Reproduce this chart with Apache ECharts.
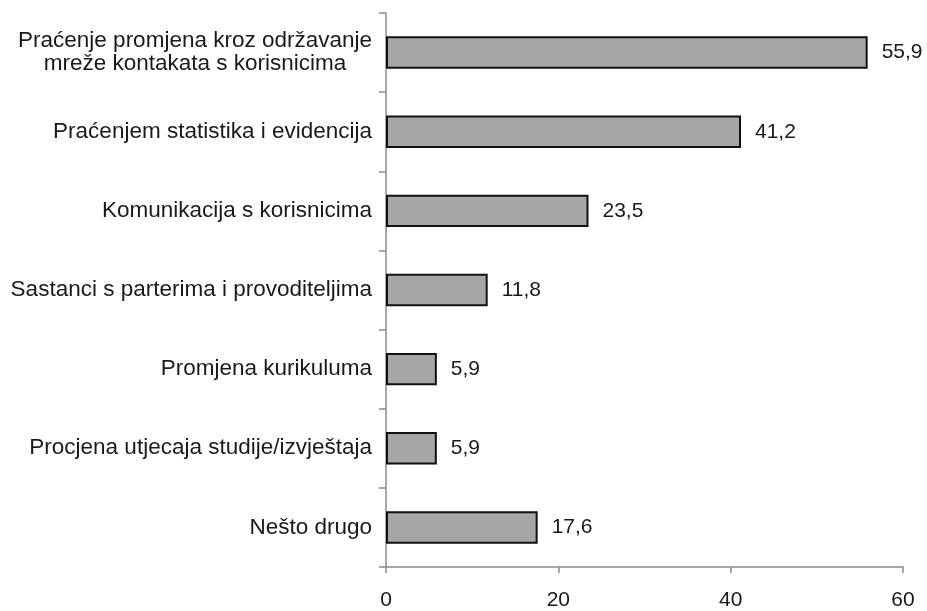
<!DOCTYPE html>
<html>
<head>
<meta charset="utf-8">
<script src="https://cdn.jsdelivr.net/npm/echarts@6/dist/echarts.min.js"></script>
<style>
  html, body { margin: 0; padding: 0; background: #ffffff; }
  #chart { width: 927px; height: 611px; }
</style>
</head>
<body>
<div id="chart"></div>
<script>
// Categories listed top to bottom
const categories = [
  'Praćenje promjena kroz održavanje\nmreže kontakata s korisnicima',
  'Praćenjem statistika i evidencija',
  'Komunikacija s korisnicima',
  'Sastanci s parterima i provoditeljima',
  'Promjena kurikuluma',
  'Procjena utjecaja studije/izvještaja',
  'Nešto drugo'
];
const values = [55.9, 41.2, 23.5, 11.8, 5.9, 5.9, 17.6];
const xTicks = [0, 20, 40, 60];

const FONT = 'Liberation Sans, Arial, sans-serif';
const chart = echarts.init(document.getElementById('chart'));

chart.setOption({
  animation: false,
  backgroundColor: '#ffffff',
  grid: { left: 386, right: 24, top: 13, bottom: 44, containLabel: false },
  xAxis: {
    type: 'value',
    min: xTicks[0],
    max: xTicks[xTicks.length - 1],
    interval: 20,
    axisLine: { show: true, lineStyle: { color: '#8c8c8c', width: 1.5 } },
    axisTick: { show: true, length: 6, lineStyle: { color: '#8c8c8c', width: 1.5 } },
    axisLabel: { color: '#1a1a1a', fontFamily: FONT, fontSize: 21, margin: 23 },
    splitLine: { show: false }
  },
  yAxis: {
    type: 'category',
    inverse: true,
    data: categories,
    axisLine: { show: true, lineStyle: { color: '#8c8c8c', width: 1.5 } },
    axisTick: { show: true, length: 7, inside: false, lineStyle: { color: '#8c8c8c', width: 1.5 } },
    axisLabel: {
      color: '#1a1a1a',
      fontFamily: FONT,
      fontSize: 22.5,
      margin: 14,
      formatter: function (v) {
        return '{c|' + v.split('\n').join('}\n{c|') + '}';
      },
      rich: {
        c: { align: 'center', color: '#1a1a1a', fontFamily: FONT, fontSize: 22.5, lineHeight: 23 }
      }
    }
  },
  series: [{
    type: 'bar',
    data: values,
    barWidth: '41%',
    itemStyle: { color: '#a6a6a6', borderColor: '#111111', borderWidth: 2 },
    label: {
      show: true,
      position: 'right',
      distance: 14,
      color: '#1a1a1a',
      fontFamily: FONT,
      fontSize: 21,
      formatter: function (p) { return p.value.toFixed(1).replace('.', ','); }
    }
  }]
});
</script>
</body>
</html>
